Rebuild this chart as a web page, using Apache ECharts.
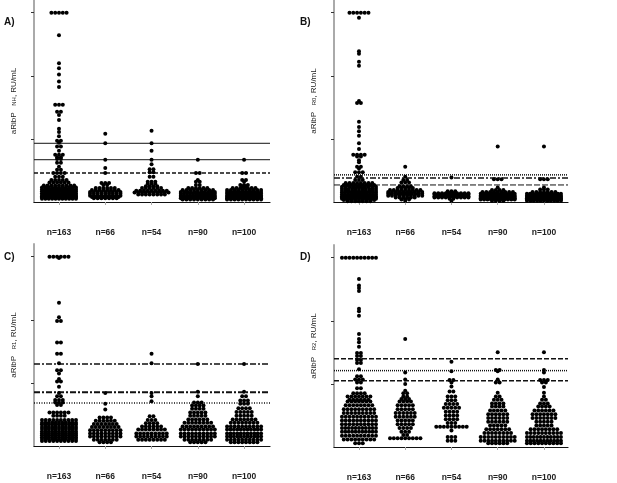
<!DOCTYPE html>
<html><head><meta charset="utf-8">
<script src="https://cdn.jsdelivr.net/npm/echarts@6/dist/echarts.min.js"></script>
<style>html,body{margin:0;padding:0;background:#fff}#c{width:617px;height:483px}</style>
</head><body><div id="c"></div>
<script>
// Group labels
const groupLabels = ['n=163', 'n=66', 'n=54', 'n=90', 'n=100'];
const yTicks = [1, 2, 3];

// Each group: rows of [value, number of dots at that value]
// Panel A (aRibP NH)
const A_g1 = [[3.0,5],[2.64,1],[2.20,1],[2.12,1],[2.02,1],[1.91,1],[1.82,1],[1.54,3],[1.43,2],[1.38,1],[1.30,1],[1.16,1],[1.11,1],[1.04,1],[0.97,2],[0.94,1],[0.88,2],[0.81,1],[0.75,3],[0.71,2],[0.68,2],[0.62,2],[0.56,1],[0.51,2],[0.46,4],[0.40,3],[0.35,5],[0.31,6],[0.26,9],[0.23,11],[0.20,12],[0.17,13],[0.14,13],[0.11,13],[0.09,13],[0.07,12],[0.05,11]];
const A_g2 = [[1.08,1],[0.93,1],[0.67,1],[0.54,1],[0.46,1],[0.30,3],[0.27,2],[0.22,6],[0.19,8],[0.16,9],[0.13,9],[0.10,9],[0.08,8],[0.06,7]];
const A_g3 = [[1.13,1],[0.93,1],[0.81,1],[0.67,1],[0.60,1],[0.52,2],[0.47,2],[0.40,2],[0.32,3],[0.29,3],[0.25,4],[0.22,6],[0.18,9],[0.15,10],[0.12,8]];
const A_g4 = [[0.67,1],[0.46,2],[0.35,1],[0.32,2],[0.27,2],[0.22,6],[0.19,9],[0.16,11],[0.13,12],[0.10,12],[0.08,12],[0.06,11],[0.04,9]];
const A_g5 = [[0.67,1],[0.46,2],[0.35,2],[0.32,1],[0.27,3],[0.25,2],[0.22,7],[0.19,10],[0.16,12],[0.13,13],[0.10,13],[0.08,12],[0.06,12],[0.04,10]];
// Panel B (aRibP R0)
const B_g1 = [[3.0,6],[2.92,1],[2.39,1],[2.35,1],[2.22,1],[2.16,1],[1.57,2],[1.60,1],[1.27,1],[1.19,1],[1.12,1],[1.05,1],[0.93,1],[0.84,1],[0.75,4],[0.72,2],[0.66,1],[0.63,1],[0.56,2],[0.53,1],[0.47,3],[0.40,2],[0.35,3],[0.30,8],[0.27,9],[0.24,10],[0.21,11],[0.18,11],[0.15,12],[0.12,12],[0.09,12],[0.07,12],[0.05,11],[0.03,9],[0.01,7]];
const B_g2 = [[0.56,1],[0.40,1],[0.35,2],[0.31,3],[0.25,4],[0.22,5],[0.19,9],[0.16,10],[0.13,11],[0.10,10],[0.07,6],[0.04,3],[0.02,1]];
const B_g3 = [[0.39,1],[0.17,3],[0.14,10],[0.12,13],[0.09,14],[0.07,10],[0.05,2],[0.02,1]];
const B_g4 = [[0.88,1],[0.36,3],[0.23,1],[0.19,4],[0.16,9],[0.13,13],[0.10,15],[0.08,15],[0.06,14],[0.04,11],[0.02,4]];
const B_g5 = [[0.88,1],[0.36,3],[0.23,1],[0.20,3],[0.16,7],[0.13,12],[0.10,16],[0.08,16],[0.06,16],[0.04,14],[0.02,11]];
// Panel C (aRibP R1)
const C_g1 = [[3.0,6],[2.98,1],[2.27,1],[2.04,1],[1.98,2],[1.64,2],[1.46,2],[1.31,1],[1.20,2],[1.15,1],[1.06,1],[1.02,2],[0.94,1],[0.84,1],[0.79,2],[0.73,3],[0.69,3],[0.65,2],[0.53,6],[0.48,4],[0.41,10],[0.37,11],[0.34,11],[0.30,11],[0.27,11],[0.23,11],[0.20,11],[0.17,11],[0.14,11],[0.11,11],[0.08,10]];
const C_g2 = [[0.84,1],[0.67,1],[0.58,1],[0.45,4],[0.40,6],[0.35,7],[0.30,8],[0.25,9],[0.20,9],[0.15,9],[0.10,7],[0.06,4]];
const C_g3 = [[1.46,1],[1.31,1],[0.84,1],[0.79,1],[0.71,1],[0.47,2],[0.41,3],[0.36,4],[0.31,6],[0.26,8],[0.20,9],[0.15,9],[0.10,8]];
const C_g4 = [[1.30,1],[0.86,1],[0.79,1],[0.69,3],[0.64,4],[0.59,4],[0.53,5],[0.48,5],[0.42,6],[0.37,8],[0.31,9],[0.26,10],[0.20,10],[0.15,10],[0.10,8],[0.06,5]];
const C_g5 = [[1.30,1],[0.86,1],[0.79,2],[0.72,3],[0.67,3],[0.60,4],[0.54,5],[0.48,5],[0.42,7],[0.37,8],[0.31,10],[0.26,11],[0.20,11],[0.15,11],[0.10,10],[0.06,8]];
// Panel D (aRibP R2)
const D_g1 = [[3.0,10],[2.66,1],[2.56,1],[2.52,1],[2.47,1],[2.19,1],[2.15,1],[2.08,1],[1.79,1],[1.71,1],[1.66,1],[1.59,1],[1.49,2],[1.44,2],[1.38,2],[1.33,2],[1.23,1],[1.12,2],[1.07,3],[1.02,2],[0.93,2],[0.85,4],[0.80,7],[0.75,6],[0.72,7],[0.66,8],[0.60,9],[0.54,9],[0.48,10],[0.42,10],[0.36,10],[0.30,11],[0.24,11],[0.18,10],[0.12,9],[0.06,3]];
const D_g2 = [[1.71,1],[1.18,1],[1.07,1],[1.00,1],[0.89,1],[0.85,2],[0.80,2],[0.76,3],[0.72,4],[0.66,5],[0.60,5],[0.54,6],[0.48,6],[0.42,5],[0.36,5],[0.30,4],[0.24,3],[0.19,2],[0.14,9]];
const D_g3 = [[1.35,1],[1.20,1],[1.06,2],[1.02,1],[0.96,1],[0.88,2],[0.80,3],[0.74,3],[0.68,4],[0.62,5],[0.56,4],[0.50,4],[0.44,4],[0.38,3],[0.32,9],[0.26,1],[0.16,3],[0.10,3]];
const D_g4 = [[1.50,1],[1.22,2],[1.20,1],[1.07,1],[1.02,2],[0.86,1],[0.80,2],[0.75,3],[0.69,4],[0.64,4],[0.58,5],[0.52,6],[0.46,6],[0.40,6],[0.34,5],[0.28,7],[0.22,8],[0.16,10],[0.10,10],[0.06,6]];
const D_g5 = [[1.50,1],[1.22,1],[1.18,1],[1.06,3],[1.02,2],[0.95,1],[0.86,1],[0.80,1],[0.75,2],[0.69,3],[0.64,4],[0.58,6],[0.52,7],[0.46,7],[0.40,5],[0.34,5],[0.28,8],[0.22,10],[0.16,11],[0.10,11],[0.06,10]];

// Reference (cut-off) lines per panel
const A_lines = [0.93, 0.67, 0.46];
const B_lines = [0.43, 0.38, 0.27];
const C_lines = [1.30, 0.85, 0.68];
const D_lines = [1.40, 1.21, 1.05];

const axisTitles = ['NH', 'R0', 'R1', 'R2'];
const panelLetters = ['A)', 'B)', 'C)', 'D)'];

// ---------- layout / styling ----------
const panels = [
  {groups:[A_g1,A_g2,A_g3,A_g4,A_g5], lines:A_lines,
   lineStyles:[{type:'solid',width:1},{type:'solid',width:1},{type:[4,2],width:1.5}],
   grid:{left:34, top:0, width:236, height:202}, xmin:0.46, xmax:5.56},
  {groups:[B_g1,B_g2,B_g3,B_g4,B_g5], lines:B_lines,
   lineStyles:[{type:[1,1],width:1.5},{type:[6,2,2,2],width:1.5},{type:[6,2],width:1}],
   grid:{left:334, top:0, width:234, height:202}, xmin:0.46, xmax:5.52},
  {groups:[C_g1,C_g2,C_g3,C_g4,C_g5], lines:C_lines,
   lineStyles:[{type:[6,2,2,2],width:1.5},{type:[6,2,2,2],width:2},{type:[1,1.5],width:1.5}],
   grid:{left:34, top:244, width:236, height:202}, xmin:0.46, xmax:5.56},
  {groups:[D_g1,D_g2,D_g3,D_g4,D_g5], lines:D_lines,
   lineStyles:[{type:[5,2],width:1.5},{type:[1,1],width:1.5},{type:[5,2],width:1.5}],
   grid:{left:334, top:245, width:234, height:202}, xmin:0.46, xmax:5.52}
];

const YMAX = 3.2;
const DOT_STEP = 3.8;   // px between dots in a row
const MAX_ROW = 34;     // px max row width

function swarm(groups, pxPerUnit) {
  const pts = [];
  groups.forEach((rows, gi) => {
    const center = gi + 1;
    rows.forEach(([v, c]) => {
      const step = c > 1 ? Math.min(DOT_STEP, MAX_ROW / (c - 1)) : 0;
      for (let i = 0; i < c; i++) {
        const off = (i - (c - 1) / 2) * step;
        pts.push([center + off / pxPerUnit, v]);
      }
    });
  });
  return pts;
}

const grid = [], xAxis = [], yAxis = [], series = [], graphic = [];
panels.forEach((p, k) => {
  grid.push(p.grid);
  const pxPerUnit = p.grid.width / (p.xmax - p.xmin);
  xAxis.push({
    gridIndex: k, type: 'value', min: p.xmin, max: p.xmax,
    axisLine: {show: true, onZero: false, lineStyle: {color: '#111', width: 1.2}},
    axisTick: {show: true, customValues: [1,2,3,4,5], length: 3, lineStyle: {color: '#aaa'}},
    axisLabel: {show: true, customValues: [1,2,3,4,5], margin: 26,
      formatter: v => groupLabels[Math.round(v) - 1] || '',
      fontFamily: 'Liberation Sans, Arial', fontSize: 8.5, fontWeight: 'bold', color: '#222'},
    splitLine: {show: false}
  });
  yAxis.push({
    gridIndex: k, type: 'value', min: 0, max: YMAX,
    axisLine: {show: true, onZero: false, lineStyle: {color: '#aaa', width: 2}},
    axisTick: {show: true, customValues: yTicks, length: 3, lineStyle: {color: '#333'}},
    axisLabel: {show: false},
    splitLine: {show: false},
    name: '{a|aRibP}  {s|' + axisTitles[k] + '}{a|, RU/mL}',
    nameLocation: 'middle', nameGap: 14,
    nameTextStyle: {rich: {
      a: {fontFamily: 'Liberation Sans, Arial', fontSize: 8, color: '#222'},
      s: {fontFamily: 'Liberation Sans, Arial', fontSize: 6, color: '#222'}
    }}
  });
  series.push({
    type: 'scatter', xAxisIndex: k, yAxisIndex: k,
    data: swarm(p.groups, pxPerUnit), symbolSize: 4,
    itemStyle: {color: '#000', opacity: 1}, silent: true, animation: false, z: 3
  });
  p.lines.forEach((v, j) => {
    series.push({
      type: 'line', xAxisIndex: k, yAxisIndex: k,
      data: [[p.xmin, v], [p.xmax, v]], symbol: 'none', silent: true, animation: false,
      lineStyle: {color: '#111', width: p.lineStyles[j].width, type: p.lineStyles[j].type}, z: 2
    });
  });
});

const letterPos = [[4, 17], [300, 17], [4, 252], [300, 252]];
panelLetters.forEach((t, k) => {
  graphic.push({type: 'text', left: letterPos[k][0], top: letterPos[k][1],
    style: {text: t, font: 'bold 10px "Liberation Sans", Arial', fill: '#111'}});
});

const chart = echarts.init(document.getElementById('c'), null, {renderer: 'canvas'});
chart.setOption({backgroundColor: '#fff', animation: false, grid, xAxis, yAxis, series, graphic});
</script></body></html>
